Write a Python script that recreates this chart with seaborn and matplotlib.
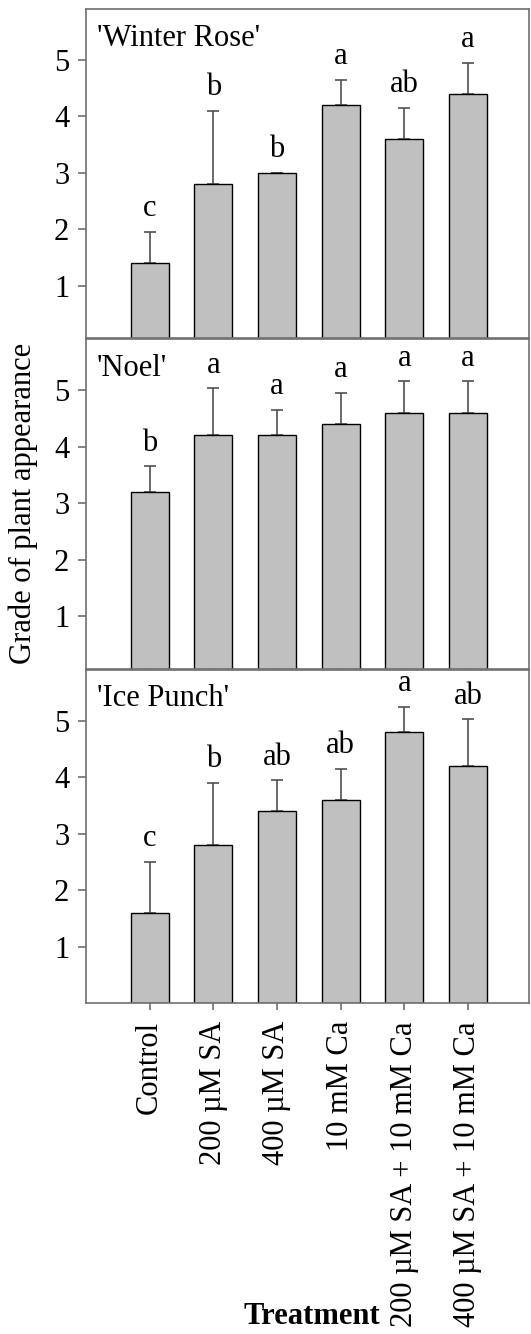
import numpy as np
import pandas as pd
import matplotlib
matplotlib.use("Agg")
import matplotlib.pyplot as plt
import seaborn as sns

treatments = ["Control", "200 \u00b5M SA", "400 \u00b5M SA", "10 mM Ca",
              "200 \u00b5M SA + 10 mM Ca", "400 \u00b5M SA + 10 mM Ca"]
cultivars = ["'Winter Rose'", "'Noel'", "'Ice Punch'"]

winter_rose_mean = [1.4, 2.8, 3.0, 4.2, 3.6, 4.4]
winter_rose_err = [0.55, 1.3, 0.0, 0.45, 0.55, 0.55]
winter_rose_letters = ["c", "b", "b", "a", "ab", "a"]

noel_mean = [3.2, 4.2, 4.2, 4.4, 4.6, 4.6]
noel_err = [0.45, 0.83, 0.45, 0.55, 0.55, 0.55]
noel_letters = ["b", "a", "a", "a", "a", "a"]

ice_punch_mean = [1.6, 2.8, 3.4, 3.6, 4.8, 4.2]
ice_punch_err = [0.9, 1.1, 0.55, 0.55, 0.45, 0.83]
ice_punch_letters = ["c", "b", "ab", "ab", "a", "ab"]

y_ticks = [1, 2, 3, 4, 5]

sns.set_theme(style="white")
plt.rcParams["font.family"] = ["Liberation Serif", "DejaVu Serif"]
plt.rcParams["text.color"] = "black"
plt.rcParams["xtick.labelcolor"] = "black"
plt.rcParams["ytick.labelcolor"] = "black"
plt.rcParams["axes.labelcolor"] = "black"

W, H = 531, 1334
fig = plt.figure(figsize=(W / 100, H / 100), dpi=100)

FS = 22
SPINE = "#707070"

# panel boxes in pixels: (top, bottom, ymin)
panels = [(9, 338, 0.07), (339, 669, 0.07), (670, 1003, 0.0)]
left_px, right_px = 86, 529

data = [
    (winter_rose_mean, winter_rose_err, winter_rose_letters),
    (noel_mean, noel_err, noel_letters),
    (ice_punch_mean, ice_punch_err, ice_punch_letters),
]

for i, ((top, bot, ymin), (mean, err, letters), name) in enumerate(zip(panels, data, cultivars)):
    ax = fig.add_axes([left_px / W, 1 - bot / H, (right_px - left_px) / W, (bot - top) / H])
    df = pd.DataFrame({"Treatment": treatments, "Grade": mean})
    sns.barplot(data=df, x="Treatment", y="Grade", ax=ax, color="#c0c0c0",
                saturation=1, edgecolor="black", linewidth=1.0, width=0.6,
                errorbar=None, zorder=2)
    xs = np.arange(len(treatments))
    ax.errorbar(xs, mean, yerr=[np.zeros(len(err)), err], fmt="none",
                ecolor="#505050", elinewidth=1.2, capsize=4, capthick=1.2, zorder=1)
    for x, m, e, lab in zip(xs, mean, err, letters):
        ax.text(x, m + e + 0.15, lab, ha="center", va="bottom", fontsize=FS)
    ax.text(0.025, 1 - 29 / (bot - top), name, transform=ax.transAxes,
            ha="left", va="center", fontsize=FS)
    ax.set_xlim(-1.0, 5.96)
    ax.set_ylim(ymin, 5.9)
    ax.set_yticks(y_ticks)
    ax.set_yticklabels([str(t) for t in y_ticks], fontsize=FS)
    ax.set_xlabel("")
    ax.set_ylabel("")
    for s in ax.spines.values():
        s.set_color(SPINE)
        s.set_linewidth(1.2)
    ax.tick_params(axis="y", direction="out", length=6, width=1.2, color=SPINE,
                   pad=6, left=True)
    ax.tick_params(axis="x", direction="out", length=5, width=1.2, color=SPINE,
                   pad=8, bottom=True)
    if i < 2:
        ax.set_xticklabels([])
    else:
        ax.set_xticks(xs)
        ax.set_xticklabels(treatments, rotation=90, fontsize=FS, va="top", ha="center")

fig.text(23 / W, 1 - 503 / H, "Grade of plant appearance", rotation=90,
         ha="center", va="center", fontsize=FS)
fig.text(312 / W, 1 - 1317 / H, "Treatment", ha="center", va="center",
         fontsize=FS, fontweight="bold")

fig.savefig("out.png", dpi=100)
